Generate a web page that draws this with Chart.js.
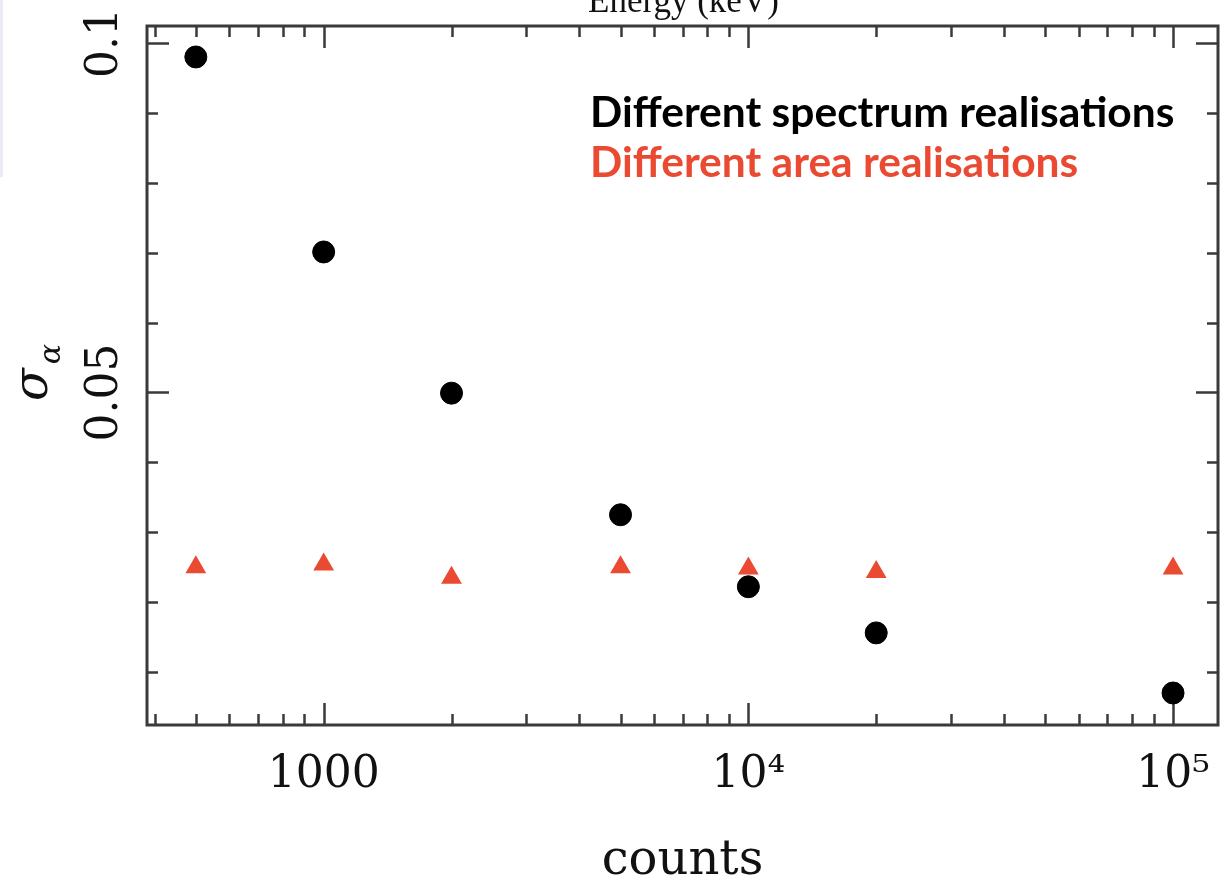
<!DOCTYPE html>
<html>
<head>
<meta charset="utf-8">
<script src="https://cdn.jsdelivr.net/npm/chart.js@4.4.1/dist/chart.umd.min.js"></script>
<style>
  html, body { margin: 0; padding: 0; background: #ffffff; }
  #c { display: block; }
</style>
</head>
<body>
<canvas id="c" width="1230" height="891"></canvas>
<script>
// ---- data ----
const counts = [500, 1000, 2000, 5000, 10000, 20000, 100000];
const spectrumSigma = [0.0980, 0.0701, 0.0499, 0.0325, 0.0222, 0.0156, 0.0070];
const areaSigma = [0.0250, 0.0254, 0.0235, 0.0250, 0.0248, 0.0243, 0.0248];

const seriesNames = ['Different spectrum realisations', 'Different area realisations'];

// ---- axis ticks ----
const xTickValues = [1000, 10000, 100000];
const xTickLabels = ['1000', '10\u2074', '10\u2075'];
const xMinorTicks = [400, 500, 600, 700, 800, 900,
                     2000, 3000, 4000, 5000, 6000, 7000, 8000, 9000,
                     20000, 30000, 40000, 50000, 60000, 70000, 80000, 90000];
const yTickValues = [0.05, 0.1];
const yTickLabels = ['0.05', '0.1'];
const yMinorTicks = [0.01, 0.02, 0.03, 0.04, 0.06, 0.07, 0.08, 0.09];

const xRange = [383.7, 127600];
const yRange = [0.00242, 0.10243];

const xTitle = 'counts';
const yTitleMain = '\u03C3';
const yTitleSub = '\u03B1';
const topCutText = 'Energy (keV)';

const BLACK = '#000000';
const RED = '#EA4A32';
const AXIS = '#3a3a3a';

const framePlugin = {
  id: 'frame',
  beforeDatasetsDraw(chart) {
    const { ctx, chartArea: a, scales: { x, y } } = chart;
    ctx.save();
    ctx.strokeStyle = AXIS;
    ctx.lineWidth = 2.5;
    ctx.lineCap = 'butt';
    const MAJ = 22, MIN = 11;
    ctx.beginPath();
    const xt = (v, len) => {
      const px = Math.round(x.getPixelForValue(v)) + 0.5;
      ctx.moveTo(px, a.bottom); ctx.lineTo(px, a.bottom - len);
      ctx.moveTo(px, a.top); ctx.lineTo(px, a.top + len);
    };
    const yt = (v, len) => {
      const py = Math.round(y.getPixelForValue(v)) + 0.5;
      ctx.moveTo(a.left, py); ctx.lineTo(a.left + len, py);
      ctx.moveTo(a.right, py); ctx.lineTo(a.right - len, py);
    };
    xTickValues.forEach(v => xt(v, MAJ));
    xMinorTicks.forEach(v => xt(v, MIN));
    yTickValues.forEach(v => yt(v, MAJ));
    yMinorTicks.forEach(v => yt(v, MIN));
    ctx.stroke();
    ctx.lineWidth = 3;
    ctx.strokeRect(a.left, a.top, a.right - a.left, a.bottom - a.top);
    ctx.restore();
  }
};

const textPlugin = {
  id: 'texts',
  afterDraw(chart) {
    const { ctx } = chart;
    ctx.save();
    // light strip at far left (part of the original screenshot)
    ctx.fillStyle = '#e9edf3';
    ctx.fillRect(0, 0, 3, 177);
    // clipped title of the panel above
    ctx.fillStyle = '#111';
    ctx.font = '35px "Liberation Serif"';
    ctx.textBaseline = 'alphabetic';
    ctx.textAlign = 'left';
    ctx.fillText(topCutText, 588, 12);
    // legend (coloured text only)
    ctx.font = 'bold 42.5px Lato';
    ctx.fillStyle = BLACK;
    ctx.fillText(seriesNames[0], 590, 127);
    ctx.fillStyle = RED;
    ctx.fillText(seriesNames[1], 590, 177);
    // y title sigma_alpha, rotated
    ctx.fillStyle = '#111';
    ctx.translate(47, 401);
    ctx.rotate(-Math.PI / 2);
    ctx.font = 'italic 48px "DejaVu Serif"';
    ctx.fillText(yTitleMain, 0, 0);
    const w = ctx.measureText(yTitleMain).width;
    ctx.font = 'italic 30px "DejaVu Serif"';
    ctx.fillText(yTitleSub, w + 4, 13);
    ctx.restore();
  }
};

new Chart(document.getElementById('c'), {
  type: 'scatter',
  data: {
    datasets: [
      {
        label: seriesNames[0],
        data: counts.map((c, i) => ({ x: c, y: spectrumSigma[i] })),
        pointStyle: 'circle',
        pointRadius: 11,
        pointBorderWidth: 1,
        backgroundColor: BLACK,
        borderColor: BLACK
      },
      {
        label: seriesNames[1],
        data: counts.map((c, i) => ({ x: c, y: areaSigma[i] })),
        pointStyle: 'triangle',
        pointRadius: 12,
        pointBorderWidth: 0,
        backgroundColor: RED,
        borderColor: RED
      }
    ]
  },
  options: {
    responsive: false,
    animation: false,
    devicePixelRatio: 1,
    layout: { padding: { left: 0, right: 10, top: 26, bottom: 0 } },
    plugins: { legend: { display: false }, tooltip: { enabled: false } },
    scales: {
      x: {
        type: 'logarithmic',
        position: 'bottom',
        min: xRange[0],
        max: xRange[1],
        bounds: 'data',
        grid: { display: false },
        border: { display: false },
        afterBuildTicks: (s) => { s.ticks = xTickValues.map(v => ({ value: v })); },
        afterFit: (s) => { s.height = 166; },
        ticks: {
          autoSkip: false,
          maxRotation: 0,
          minRotation: 0,
          padding: 16,
          color: '#111',
          font: { family: 'DejaVu Serif', size: 44 },
          callback: (v, i) => xTickLabels[i]
        },
        title: {
          display: true,
          text: xTitle,
          color: '#111',
          font: { family: 'DejaVu Serif', size: 48 },
          padding: { top: 0, bottom: 1 }
        }
      },
      y: {
        type: 'linear',
        position: 'left',
        min: yRange[0],
        max: yRange[1],
        bounds: 'data',
        grid: { display: false },
        border: { display: false },
        afterBuildTicks: (s) => { s.ticks = yTickValues.map(v => ({ value: v })); },
        afterFit: (s) => { s.width = 147; },
        ticks: {
          autoSkip: false,
          minRotation: 90,
          maxRotation: 90,
          crossAlign: 'center',
          padding: -16,
          color: '#111',
          font: { family: 'DejaVu Serif', size: 44 },
          callback: (v, i) => yTickLabels[i]
        },
        title: { display: false }
      }
    }
  },
  plugins: [framePlugin, textPlugin]
});
</script>
</body>
</html>
